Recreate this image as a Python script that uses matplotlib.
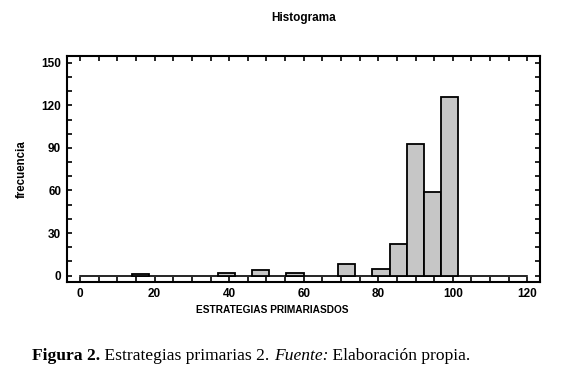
import matplotlib
matplotlib.use("Agg")
import matplotlib.pyplot as plt
from matplotlib.ticker import MultipleLocator

# histogram counts, 22 bins of equal width from 0 up to the top value
counts = [0, 0, 0, 1, 0, 0, 0, 0, 2, 0, 4, 0, 2, 0, 0, 8, 0, 5, 22, 93, 59, 126]
bin_start = 0.0
bin_stop = 101.5
x_ticks = [0, 20, 40, 60, 80, 100, 120]
y_ticks = [0, 30, 60, 90, 120, 150]

title = "Histograma"
x_label = "ESTRATEGIAS PRIMARIASDOS"
y_label = "frecuencia"

sans = ["Liberation Sans", "DejaVu Sans"]
serif = ["Liberation Serif", "DejaVu Serif"]

fig = plt.figure(figsize=(5.8, 3.76), dpi=100)
ax = fig.add_axes([0.115, 0.25, 0.816, 0.602])

width = (bin_stop - bin_start) / len(counts)
lefts = [bin_start + i * width for i in range(len(counts))]

# zero baseline drawn across the whole range
ax.plot([0, 120], [0, 0], color="black", lw=1.2, zorder=2)
for left, c in zip(lefts, counts):
    if c > 0:
        ax.bar(left, c, width=width, align="edge", color="#c6c6c6",
               edgecolor="black", linewidth=1.3, zorder=3)

ax.set_xlim(-3.6, 123.4)
ax.set_ylim(-4.5, 155)
ax.set_xticks(x_ticks)
ax.set_yticks(y_ticks)
ax.xaxis.set_minor_locator(MultipleLocator(5))
ax.yaxis.set_minor_locator(MultipleLocator(10))
ax.tick_params(which="both", direction="in", top=True, right=True,
               length=3.8, width=1.2, labelsize=8.5, pad=4)
for lab in ax.get_xticklabels() + ax.get_yticklabels():
    lab.set_fontfamily(sans)
    lab.set_fontweight("bold")
for s in ax.spines.values():
    s.set_linewidth(1.5)

fig.text(304 / 580, 1 - 18 / 376, title, ha="center", va="center",
         fontsize=8.5, fontweight="bold", family=sans)
fig.text(272 / 580, 1 - 310 / 376, x_label, ha="center", va="center",
         fontsize=7.3, fontweight="bold", family=sans)
fig.text(22 / 580, 1 - 169 / 376, y_label, ha="center", va="center",
         rotation=90, fontsize=8.3, fontweight="bold", family=sans)

# caption, pieces chained left to right
parts = [("Figura 2.", "bold", "normal"),
         (" Estrategias primarias 2. ", "normal", "normal"),
         ("Fuente:", "normal", "italic"),
         (" Elaboración propia.", "normal", "normal")]
fig.canvas.draw()
renderer = fig.canvas.get_renderer()
x = 32 / 580
for txt, weight, style in parts:
    t = fig.text(x, 1 - 360 / 376, txt, ha="left", va="baseline",
                 fontsize=12.6, fontweight=weight, fontstyle=style, family=serif)
    bb = t.get_window_extent(renderer=renderer)
    x = bb.x1 / fig.bbox.width

fig.savefig("out.png", dpi=100)
